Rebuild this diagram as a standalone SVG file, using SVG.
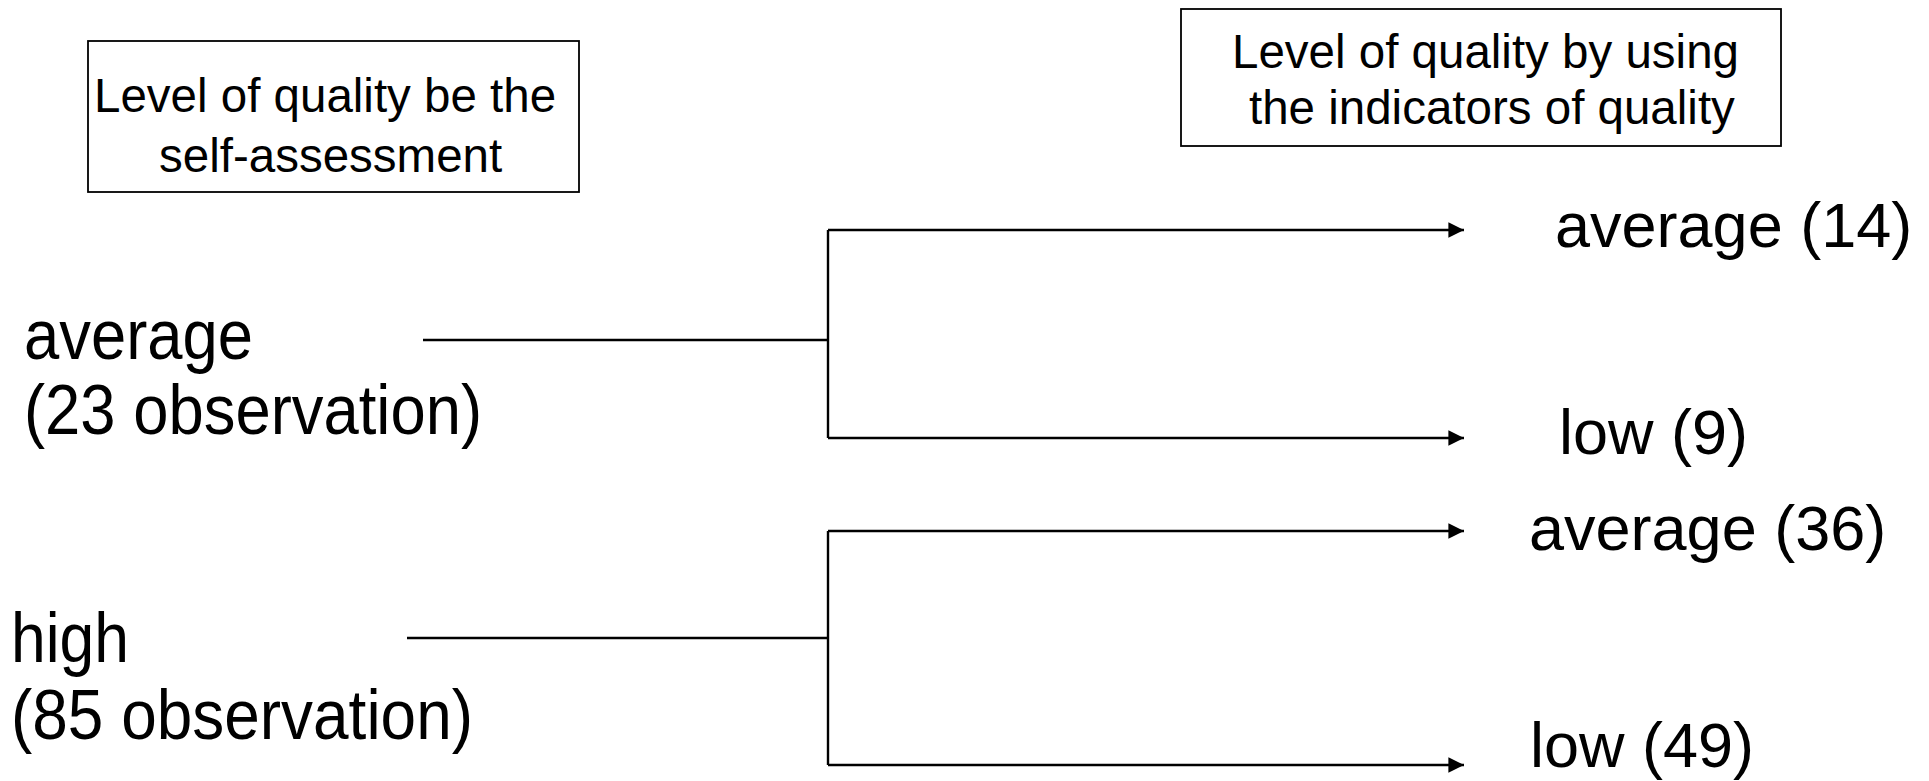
<svg xmlns="http://www.w3.org/2000/svg" width="1929" height="781" viewBox="0 0 1929 781">
  <style>
    text { font-family: "Liberation Sans", Arial, sans-serif; fill: #000; }
    .box { fill: #fff; stroke: #000; stroke-width: 1.8; }
    .hdr { font-size: 47.5px; }
    .lbl { font-size: 70px; }
    .res { font-size: 63px; }
    .ln { fill: none; stroke: #000; stroke-width: 2.4; }
  </style>
  <defs>
    <marker id="arr" viewBox="0 0 10 10" refX="10" refY="5" markerWidth="6.5" markerHeight="6.5" markerUnits="strokeWidth" orient="auto">
      <path d="M0,0 L10,5 L0,10 z" fill="#000"/>
    </marker>
  </defs>
  <rect width="1929" height="781" fill="#fff"/>

  <g id="box-self">
    <rect class="box" x="88" y="41" width="491" height="151"/>
    <text class="hdr" x="94" y="112">Level of quality be the</text>
    <text class="hdr" x="159" y="172">self-assessment</text>
  </g>

  <g id="box-indicators">
    <rect class="box" x="1181" y="9" width="600" height="137"/>
    <text class="hdr" x="1232" y="68">Level of quality by using</text>
    <text class="hdr" x="1249" y="124">the indicators of quality</text>
  </g>

  <g id="node-average">
    <text class="lbl" x="24" y="359" textLength="229" lengthAdjust="spacingAndGlyphs">average</text>
    <text class="lbl" x="24" y="434" textLength="458" lengthAdjust="spacingAndGlyphs">(23 observation)</text>
  </g>

  <g id="node-high">
    <text class="lbl" x="11" y="662" textLength="118" lengthAdjust="spacingAndGlyphs">high</text>
    <text class="lbl" x="11" y="739" textLength="462" lengthAdjust="spacingAndGlyphs">(85 observation)</text>
  </g>

  <g id="res-avg14"><text class="res" x="1555" y="247">average (14)</text></g>
  <g id="res-low9"><text class="res" x="1559" y="454">low (9)</text></g>
  <g id="res-avg36"><text class="res" x="1529" y="550">average (36)</text></g>
  <g id="res-low49"><text class="res" x="1530" y="767">low (49)</text></g>

  <g id="connectors">
    <line class="ln" x1="423" y1="340" x2="828" y2="340"/>
    <line class="ln" x1="828" y1="230" x2="828" y2="438"/>
    <line class="ln" x1="828" y1="230" x2="1464" y2="230" marker-end="url(#arr)"/>
    <line class="ln" x1="828" y1="438" x2="1464" y2="438" marker-end="url(#arr)"/>
    <line class="ln" x1="407" y1="638" x2="828" y2="638"/>
    <line class="ln" x1="828" y1="531" x2="828" y2="765"/>
    <line class="ln" x1="828" y1="531" x2="1464" y2="531" marker-end="url(#arr)"/>
    <line class="ln" x1="828" y1="765" x2="1464" y2="765" marker-end="url(#arr)"/>
  </g>
</svg>
